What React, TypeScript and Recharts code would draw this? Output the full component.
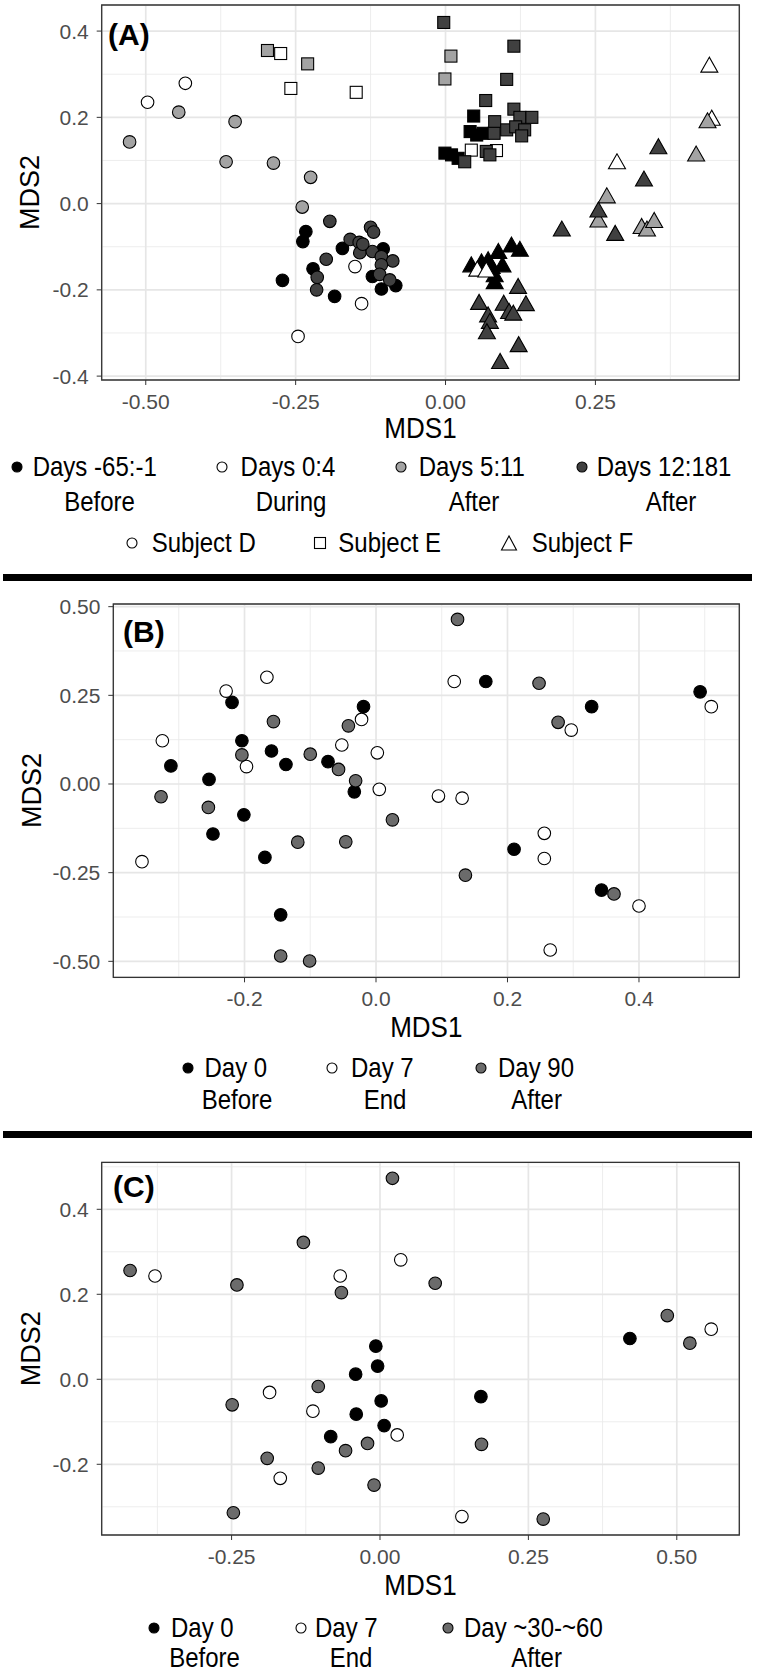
import React from 'react'
import { ScatterChart, Scatter, XAxis, YAxis, CartesianGrid, ReferenceArea } from 'recharts'

const FONT = '"Liberation Sans", Arial, Helvetica, sans-serif'

// ---- panel A (subjects D, E, F; four time windows) ----
const dBefore = [[-0.233, -0.065], [-0.238, -0.088], [-0.172, -0.104], [-0.104, -0.105], [-0.221, -0.151], [-0.122, -0.169], [-0.272, -0.178], [-0.083, -0.19], [-0.107, -0.198], [-0.185, -0.215]]
const dDuring = [[-0.497, 0.235], [-0.434, 0.279], [-0.151, -0.146], [-0.14, -0.232], [-0.246, -0.308]]
const dEarly = [[-0.445, 0.212], [-0.527, 0.143], [-0.351, 0.19], [-0.366, 0.097], [-0.287, 0.094], [-0.225, 0.061], [-0.239, -0.008]]
const dLate = [[-0.193, -0.041], [-0.159, -0.083], [-0.144, -0.09], [-0.125, -0.055], [-0.12, -0.066], [-0.143, -0.114], [-0.199, -0.129], [-0.122, -0.111], [-0.107, -0.123], [-0.088, -0.133], [-0.107, -0.142], [-0.214, -0.171], [-0.11, -0.164], [-0.093, -0.177], [-0.215, -0.2], [-0.138, -0.094]]

const eBefore = [[-0.001, 0.117], [0.01, 0.113], [0.021, 0.105], [0.047, 0.203], [0.041, 0.167], [0.052, 0.159], [0.063, 0.163]]
const eDuring = [[-0.275, 0.348], [-0.258, 0.267], [-0.149, 0.258], [0.043, 0.124], [0.085, 0.123]]
const eEarly = [[-0.297, 0.355], [-0.23, 0.324], [0.009, 0.342], [-0.001, 0.289]]
const eLate = [[-0.003, 0.42], [0.114, 0.365], [0.102, 0.288], [0.067, 0.239], [0.114, 0.219], [0.124, 0.2], [0.144, 0.2], [0.082, 0.19], [0.081, 0.163], [0.102, 0.171], [0.117, 0.178], [0.132, 0.171], [0.127, 0.157], [0.032, 0.097], [0.068, 0.121], [0.074, 0.113]]

const fBefore = [[0.11, -0.096], [0.124, -0.106], [0.043, -0.142], [0.071, -0.13], [0.088, -0.111], [0.095, -0.142], [0.077, -0.146], [0.082, -0.165], [0.082, -0.181], [0.06, -0.135]]
const fDuring = [[0.44, 0.321], [0.444, 0.198], [0.286, 0.097], [0.053, -0.152], [0.068, -0.154]]
const fEarly = [[0.437, 0.192], [0.418, 0.115], [0.269, 0.018], [0.255, -0.038], [0.327, -0.053], [0.336, -0.059], [0.348, -0.039]]
const fLate = [[0.355, 0.132], [0.331, 0.057], [0.255, -0.015], [0.283, -0.069], [0.194, -0.059], [0.121, -0.192], [0.056, -0.229], [0.097, -0.231], [0.134, -0.232], [0.106, -0.25], [0.113, -0.254], [0.071, -0.258], [0.074, -0.273], [0.069, -0.297], [0.122, -0.327], [0.091, -0.366]]

// ---- panel B ----
const bDay0 = [[-0.219, 0.23], [-0.312, 0.051], [-0.204, 0.122], [-0.159, 0.093], [-0.137, 0.055], [-0.073, 0.063], [-0.019, 0.218], [-0.033, -0.022], [-0.254, 0.013], [-0.248, -0.141], [-0.201, -0.087], [-0.169, -0.207], [-0.145, -0.369], [0.167, 0.289], [0.328, 0.218], [0.493, 0.26], [0.21, -0.184], [0.343, -0.299]]
const bDay7 = [[-0.228, 0.262], [-0.166, 0.301], [-0.325, 0.122], [-0.197, 0.049], [-0.052, 0.11], [-0.022, 0.182], [0.002, 0.088], [0.005, -0.015], [-0.356, -0.219], [0.119, 0.289], [0.297, 0.152], [0.51, 0.218], [0.095, -0.034], [0.131, -0.04], [0.256, -0.139], [0.256, -0.21], [0.265, -0.468], [0.4, -0.344]]
const bDay90 = [[-0.156, 0.176], [-0.204, 0.082], [-0.1, 0.084], [-0.057, 0.041], [-0.042, 0.164], [-0.031, 0.009], [0.025, -0.101], [-0.327, -0.036], [-0.255, -0.066], [-0.119, -0.164], [-0.046, -0.163], [-0.145, -0.485], [-0.101, -0.499], [0.124, 0.464], [0.248, 0.284], [0.277, 0.174], [0.136, -0.257], [0.362, -0.31]]

// ---- panel C ----
const cDay0 = [[-0.007, 0.078], [-0.004, 0.031], [-0.041, 0.012], [0.002, -0.051], [-0.04, -0.082], [0.007, -0.109], [-0.083, -0.135], [0.421, 0.096], [0.17, -0.041]]
const cDay7 = [[-0.379, 0.243], [-0.067, 0.243], [-0.186, -0.031], [-0.113, -0.075], [-0.168, -0.233], [0.035, 0.281], [0.558, 0.118], [0.029, -0.131], [0.138, -0.323]]
const cLater = [[0.021, 0.473], [-0.129, 0.322], [-0.421, 0.256], [-0.241, 0.222], [-0.065, 0.204], [-0.104, -0.017], [-0.249, -0.06], [-0.021, -0.151], [-0.058, -0.168], [-0.19, -0.186], [-0.104, -0.209], [-0.01, -0.249], [-0.247, -0.314], [0.093, 0.226], [0.484, 0.15], [0.522, 0.085], [0.171, -0.153], [0.275, -0.329]]

// ticks
const aXTicks = [-0.5, -0.25, 0, 0.25]
const aXMinor = [-0.375, -0.125, 0.125, 0.375]
const aYTicks = [-0.4, -0.2, 0, 0.2, 0.4]
const aYMinor = [-0.3, -0.1, 0.1, 0.3]
const bXTicks = [-0.2, 0, 0.2, 0.4]
const bXMinor = [-0.3, -0.1, 0.1, 0.3, 0.5]
const bYTicks = [-0.5, -0.25, 0, 0.25, 0.5]
const bYMinor = [-0.375, -0.125, 0.125, 0.375]
const cXTicks = [-0.25, 0, 0.25, 0.5]
const cXMinor = [-0.375, -0.125, 0.125, 0.375]
const cYTicks = [-0.2, 0, 0.2, 0.4]
const cYMinor = [-0.3, -0.1, 0.1, 0.3, 0.5]

const BLACK = '#000000'
const WHITE = '#ffffff'
const LIGHT = '#a3a3a3'
const DARK = '#404040'
const MID = '#6b6b6b'

const pts = (a: number[][]) => a.map(([x, y]) => ({ x, y }))

type Kind = 'circle' | 'square' | 'triangle'

const markShape = (kind: Kind, fill: string) => (p: any) => {
  const { cx, cy } = p
  if (kind === 'square')
    return <rect x={cx - 6} y={cy - 6} width={12} height={12} fill={fill} stroke="#000" strokeWidth={1.1} />
  if (kind === 'triangle')
    return <polygon points={`${cx},${cy - 8} ${cx - 8.5},${cy + 7} ${cx + 8.5},${cy + 7}`} fill={fill} stroke="#000" strokeWidth={1.1} strokeLinejoin="miter" />
  return <circle cx={cx} cy={cy} r={6.3} fill={fill} stroke="#000" strokeWidth={1.1} />
}

interface Series { data: number[][]; kind: Kind; fill: string }

interface PanelProps {
  top: number
  height: number
  marginTop: number
  yWidth: number
  xDomain: [number, number]
  yDomain: [number, number]
  xTicks: number[]
  xMinor: number[]
  yTicks: number[]
  yMinor: number[]
  xDigits: number
  yDigits: number
  series: Series[]
  tag: string
  tagX: number
  tagY: number
  xTitleX: number
  xTitleY: number
  yTitleX: number
  yTitleY: number
}

function Panel(p: PanelProps) {
  const tickStyle = { fontSize: 21, fill: '#4d4d4d', fontFamily: FONT }
  return (
    <div style={{ position: 'absolute', left: 0, top: p.top }}>
      <ScatterChart width={757} height={p.height} margin={{ top: p.marginTop, right: 17.7, bottom: 0, left: 0 }}>
        <CartesianGrid stroke="#ebebeb" strokeWidth={0.9} horizontalValues={p.yMinor} verticalValues={p.xMinor} />
        <CartesianGrid stroke="#e6e6e6" strokeWidth={1.7} />
        <XAxis
          type="number"
          dataKey="x"
          domain={p.xDomain}
          ticks={p.xTicks}
          interval={0}
          allowDataOverflow
          height={70}
          axisLine={false}
          tickLine={{ stroke: '#333' }}
          tickSize={5}
          tickMargin={9}
          tick={tickStyle}
          tickFormatter={(v: number) => v.toFixed(p.xDigits)}
          label={() => (
            <text
              x={p.xTitleX}
              y={p.xTitleY}
              transform={`translate(0 ${p.xTitleY}) scale(1 1.1) translate(0 ${-p.xTitleY})`}
              textAnchor="middle"
              fontSize={26}
              fontFamily={FONT}
              fill="#000"
            >MDS1</text>
          )}
        />
        <YAxis
          type="number"
          dataKey="y"
          domain={p.yDomain}
          ticks={p.yTicks}
          interval={0}
          allowDataOverflow
          width={p.yWidth}
          axisLine={false}
          tickLine={{ stroke: '#333' }}
          tickSize={5}
          tickMargin={8}
          tick={tickStyle}
          tickFormatter={(v: number) => v.toFixed(p.yDigits)}
          label={() => (
            <g>
              <text
                x={p.yTitleX}
                y={p.yTitleY}
                transform={`rotate(-90 ${p.yTitleX} ${p.yTitleY})`}
                textAnchor="middle"
                dominantBaseline="central"
                fontSize={27}
                fontFamily={FONT}
                fill="#000"
              >MDS2</text>
              <text x={p.tagX} y={p.tagY} fontSize={30} fontWeight="bold" fontFamily={FONT} fill="#000">{p.tag}</text>
            </g>
          )}
        />
        <ReferenceArea
          x1={p.xDomain[0]}
          x2={p.xDomain[1]}
          y1={p.yDomain[0]}
          y2={p.yDomain[1]}
          fill="none"
          stroke="#333"
          strokeWidth={1.3}
          ifOverflow="visible"
        />
        {p.series.map((s, i) => (
          <Scatter key={i} data={pts(s.data)} shape={markShape(s.kind, s.fill)} isAnimationActive={false} />
        ))}
      </ScatterChart>
    </div>
  )
}

function Mark({ kind, fill, x, y }: { kind: Kind; fill: string; x: number; y: number }) {
  return (
    <svg width={20} height={20} style={{ position: 'absolute', left: x - 10, top: y - 10 }}>
      {kind === 'circle' && <circle cx={10} cy={10} r={5} fill={fill} stroke="#000" strokeWidth={1.1} />}
      {kind === 'square' && <rect x={4.5} y={4.5} width={11} height={11} fill={fill} stroke="#000" strokeWidth={1.1} />}
      {kind === 'triangle' && <polygon points="10,3 2.5,17 17.5,17" fill={fill} stroke="#000" strokeWidth={1.1} />}
    </svg>
  )
}

function Txt({ x, y, center, children }: { x: number; y: number; center?: boolean; children: React.ReactNode }) {
  return (
    <div
      style={{
        position: 'absolute',
        left: x,
        top: y,
        transform: center ? 'translate(-50%, -50%) scaleY(1.12)' : 'translateY(-50%) scaleY(1.12)',
        fontSize: 24,
        lineHeight: 1,
        fontFamily: FONT,
        color: '#000',
        whiteSpace: 'nowrap',
      }}
    >
      {children}
    </div>
  )
}

function Rule({ y }: { y: number }) {
  return <div style={{ position: 'absolute', left: 3, top: y - 3.3, width: 749, height: 6.6, background: '#000' }} />
}

export default function App() {
  const seriesA: Series[] = [
    { data: dBefore, kind: 'circle', fill: BLACK },
    { data: dDuring, kind: 'circle', fill: WHITE },
    { data: dEarly, kind: 'circle', fill: LIGHT },
    { data: dLate, kind: 'circle', fill: DARK },
    { data: eBefore, kind: 'square', fill: BLACK },
    { data: eDuring, kind: 'square', fill: WHITE },
    { data: eEarly, kind: 'square', fill: LIGHT },
    { data: eLate, kind: 'square', fill: DARK },
    { data: fBefore, kind: 'triangle', fill: BLACK },
    { data: fDuring, kind: 'triangle', fill: WHITE },
    { data: fEarly, kind: 'triangle', fill: LIGHT },
    { data: fLate, kind: 'triangle', fill: DARK },
  ]
  const seriesB: Series[] = [
    { data: bDay0, kind: 'circle', fill: BLACK },
    { data: bDay7, kind: 'circle', fill: WHITE },
    { data: bDay90, kind: 'circle', fill: MID },
  ]
  const seriesC: Series[] = [
    { data: cDay0, kind: 'circle', fill: BLACK },
    { data: cDay7, kind: 'circle', fill: WHITE },
    { data: cLater, kind: 'circle', fill: MID },
  ]

  return (
    <div style={{ position: 'absolute', left: 0, top: 0, width: 757, height: 1671, background: '#fff' }}>
      <Panel
        top={0}
        height={450}
        marginTop={5}
        yWidth={101.7}
        xDomain={[-0.5735, 0.49]}
        yDomain={[-0.409, 0.4605]}
        xTicks={aXTicks}
        xMinor={aXMinor}
        yTicks={aYTicks}
        yMinor={aYMinor}
        xDigits={2}
        yDigits={1}
        series={seriesA}
        tag="(A)"
        tagX={108}
        tagY={45}
        xTitleX={420.5}
        xTitleY={437.6}
        yTitleX={30}
        yTitleY={192.5}
      />
      <Mark kind="circle" fill={BLACK} x={16.8} y={466.7} />
      <Txt x={32.7} y={466.7}>Days -65:-1</Txt>
      <Txt x={99.6} y={501.7} center>Before</Txt>
      <Mark kind="circle" fill={WHITE} x={222} y={466.7} />
      <Txt x={240.6} y={466.7}>Days 0:4</Txt>
      <Txt x={291} y={501.7} center>During</Txt>
      <Mark kind="circle" fill={LIGHT} x={401} y={466.7} />
      <Txt x={418.7} y={466.7}>Days 5:11</Txt>
      <Txt x={474} y={501.7} center>After</Txt>
      <Mark kind="circle" fill={DARK} x={582} y={466.7} />
      <Txt x={596.7} y={466.7}>Days 12:181</Txt>
      <Txt x={671} y={501.7} center>After</Txt>
      <Mark kind="circle" fill={WHITE} x={131.7} y={543.3} />
      <Txt x={151.7} y={543.3}>Subject D</Txt>
      <Mark kind="square" fill={WHITE} x={320} y={543.3} />
      <Txt x={338.3} y={543.3}>Subject E</Txt>
      <Mark kind="triangle" fill={WHITE} x={509} y={543.3} />
      <Txt x={531.7} y={543.3}>Subject F</Txt>
      <Rule y={577.3} />

      <Panel
        top={590}
        height={457.3}
        marginTop={14}
        yWidth={113.3}
        xDomain={[-0.3996, 0.5526]}
        yDomain={[-0.545, 0.5075]}
        xTicks={bXTicks}
        xMinor={bXMinor}
        yTicks={bYTicks}
        yMinor={bYMinor}
        xDigits={1}
        yDigits={2}
        series={seriesB}
        tag="(B)"
        tagX={123}
        tagY={52}
        xTitleX={426.3}
        xTitleY={447.3}
        yTitleX={31.7}
        yTitleY={200.6}
      />
      <Mark kind="circle" fill={BLACK} x={187.7} y={1068.3} />
      <Txt x={204.5} y={1068.3}>Day 0</Txt>
      <Txt x={237} y={1100} center>Before</Txt>
      <Mark kind="circle" fill={WHITE} x={332} y={1068.3} />
      <Txt x={351} y={1068.3}>Day 7</Txt>
      <Txt x={385} y={1100} center>End</Txt>
      <Mark kind="circle" fill={MID} x={481} y={1068.3} />
      <Txt x={498} y={1068.3}>Day 90</Txt>
      <Txt x={536.6} y={1100} center>After</Txt>
      <Rule y={1134.3} />

      <Panel
        top={1145}
        height={460}
        marginTop={17.3}
        yWidth={101.7}
        xDomain={[-0.4688, 0.6053]}
        yDomain={[-0.3664, 0.5106]}
        xTicks={cXTicks}
        xMinor={cXMinor}
        yTicks={cYTicks}
        yMinor={cYMinor}
        xDigits={2}
        yDigits={1}
        series={seriesC}
        tag="(C)"
        tagX={113}
        tagY={52}
        xTitleX={420.5}
        xTitleY={450.3}
        yTitleX={30.8}
        yTitleY={203.7}
      />
      <Mark kind="circle" fill={BLACK} x={154} y={1628} />
      <Txt x={171} y={1628}>Day 0</Txt>
      <Txt x={204.5} y={1658} center>Before</Txt>
      <Mark kind="circle" fill={WHITE} x={300.8} y={1628} />
      <Txt x={315} y={1628}>Day 7</Txt>
      <Txt x={351} y={1658} center>End</Txt>
      <Mark kind="circle" fill={MID} x={447.5} y={1628} />
      <Txt x={464} y={1628}>Day ~30-~60</Txt>
      <Txt x={536.6} y={1658} center>After</Txt>
    </div>
  )
}
